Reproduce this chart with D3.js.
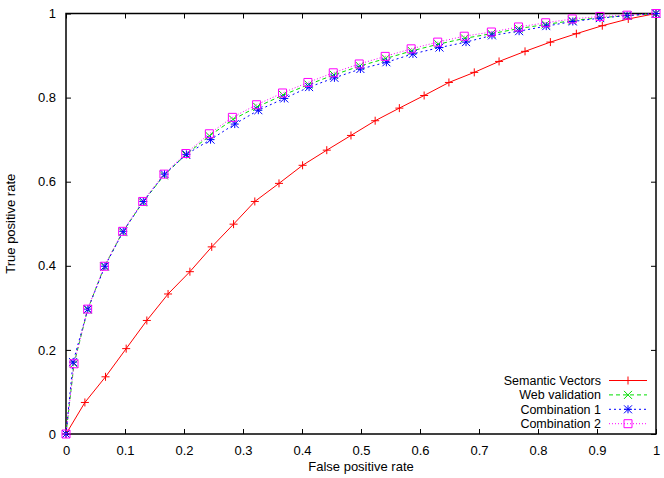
<!DOCTYPE html>
<html>
<head>
<meta charset="utf-8">
<script src="https://cdn.jsdelivr.net/npm/d3@7"></script>
<style>
  body { margin: 0; background: #fff; }
  text { font-family: "Liberation Sans", Arial, sans-serif; font-size: 13px; fill: #000; }
</style>
</head>
<body>
<div id="chart"></div>
<script>
// ROC curve data
var fprSV = [0, 0.032, 0.067, 0.102, 0.137, 0.173, 0.210, 0.247, 0.284, 0.320, 0.361, 0.401, 0.442, 0.483, 0.524, 0.565, 0.607, 0.649, 0.692, 0.734, 0.778, 0.821, 0.865, 0.909, 0.953, 1];
var tprSV = [0, 0.075, 0.136, 0.203, 0.270, 0.333, 0.386, 0.445, 0.499, 0.553, 0.596, 0.639, 0.675, 0.710, 0.745, 0.775, 0.805, 0.836, 0.860, 0.886, 0.910, 0.932, 0.952, 0.971, 0.987, 1];

var fprWV = [0, 0.0136, 0.0367, 0.065, 0.096, 0.130, 0.166, 0.203, 0.243, 0.283, 0.324, 0.368, 0.411, 0.454, 0.498, 0.542, 0.586, 0.631, 0.676, 0.721, 0.767, 0.813, 0.858, 0.905, 0.951, 1];
var tprWV = [0, 0.167, 0.296, 0.398, 0.480, 0.551, 0.615, 0.664, 0.709, 0.748, 0.778, 0.806, 0.831, 0.854, 0.875, 0.893, 0.911, 0.927, 0.941, 0.952, 0.964, 0.974, 0.983, 0.990, 0.995, 1];

var fprC1 = [0, 0.012, 0.037, 0.066, 0.097, 0.131, 0.167, 0.204, 0.245, 0.286, 0.326, 0.370, 0.412, 0.455, 0.499, 0.543, 0.588, 0.633, 0.678, 0.722, 0.768, 0.814, 0.859, 0.905, 0.951, 1];
var tprC1 = [0, 0.171, 0.297, 0.399, 0.482, 0.553, 0.618, 0.665, 0.700, 0.737, 0.770, 0.798, 0.825, 0.847, 0.868, 0.884, 0.904, 0.919, 0.932, 0.948, 0.958, 0.970, 0.981, 0.989, 0.995, 1];

var fprC2 = [0, 0.0136, 0.0367, 0.065, 0.096, 0.130, 0.166, 0.203, 0.243, 0.282, 0.323, 0.367, 0.410, 0.453, 0.497, 0.541, 0.585, 0.630, 0.675, 0.721, 0.767, 0.813, 0.858, 0.905, 0.951, 1];
var tprC2 = [0, 0.167, 0.297, 0.399, 0.482, 0.553, 0.618, 0.667, 0.714, 0.753, 0.783, 0.811, 0.836, 0.859, 0.880, 0.898, 0.916, 0.932, 0.946, 0.956, 0.968, 0.978, 0.987, 0.993, 0.996, 1];

var seriesNames = ["Semantic Vectors", "Web validation", "Combination 1", "Combination 2"];
var xTicks = [0, 0.1, 0.2, 0.3, 0.4, 0.5, 0.6, 0.7, 0.8, 0.9, 1];
var yTicks = [0, 0.2, 0.4, 0.6, 0.8, 1];

var series = [
    { name: seriesNames[0], x: fprSV, y: tprSV, color: "#ff0000", dash: null, marker: "plus" },
    { name: seriesNames[1], x: fprWV, y: tprWV, color: "#00dd00", dash: "4,3", marker: "cross" },
    { name: seriesNames[2], x: fprC1, y: tprC1, color: "#0000ff", dash: "2,3", marker: "star" },
    { name: seriesNames[3], x: fprC2, y: tprC2, color: "#ff00ff", dash: "1,2", marker: "square" }
];

// dimensions
var margin = { top: 13.5, right: 8, bottom: 44, left: 66 },
    width = 664 - margin.left - margin.right,
    height = 478 - margin.top - margin.bottom;

var svg = d3.select("#chart")
    .append("svg")
    .attr("width", 664)
    .attr("height", 478)
    .append("g")
    .attr("transform", "translate(" + margin.left + "," + margin.top + ")");

var x = d3.scaleLinear().domain([0, 1]).range([0, width]);
var y = d3.scaleLinear().domain([0, 1]).range([height, 0]);

// axes with inward ticks on all four sides (mirrored)
function styleAxis(g) {
    g.select(".domain").remove();
    g.selectAll(".tick line").attr("stroke", "#000").attr("stroke-width", 1);
}
svg.append("g")
    .attr("transform", "translate(0," + height + ")")
    .call(d3.axisBottom(x).tickValues(xTicks).tickSize(-5).tickPadding(12).tickFormat(d3.format("")))
    .call(styleAxis);
svg.append("g")
    .call(d3.axisTop(x).tickValues(xTicks).tickSize(-5).tickFormat(""))
    .call(styleAxis);
svg.append("g")
    .call(d3.axisLeft(y).tickValues(yTicks).tickSize(-5).tickPadding(10).tickFormat(d3.format("")))
    .call(styleAxis);
svg.append("g")
    .attr("transform", "translate(" + width + ",0)")
    .call(d3.axisRight(y).tickValues(yTicks).tickSize(-5).tickFormat(""))
    .call(styleAxis);
svg.selectAll(".tick text").style("font-family", "Liberation Sans, Arial, sans-serif").style("font-size", "13px");

// frame
svg.append("rect")
    .attr("width", width).attr("height", height)
    .attr("fill", "none").attr("stroke", "#000").attr("stroke-width", 1.5);

// axis titles
svg.append("text")
    .attr("x", width / 2).attr("y", height + 37)
    .attr("text-anchor", "middle")
    .text("False positive rate");
svg.append("text")
    .attr("transform", "translate(" + (-51) + "," + (height / 2) + ") rotate(-90)")
    .attr("text-anchor", "middle")
    .text("True positive rate");

// marker shapes
function markerPath(type, s) {
    var h = s / 2;
    if (type === "plus") return "M" + (-h) + ",0H" + h + "M0," + (-h) + "V" + h;
    if (type === "cross") return "M" + (-h) + "," + (-h) + "L" + h + "," + h + "M" + (-h) + "," + h + "L" + h + "," + (-h);
    if (type === "star") return "M" + (-h) + ",0H" + h + "M0," + (-h) + "V" + h +
        "M" + (-h) + "," + (-h) + "L" + h + "," + h + "M" + (-h) + "," + h + "L" + h + "," + (-h);
    return "M" + (-h) + "," + (-h) + "H" + h + "V" + h + "H" + (-h) + "Z";
}

var line = d3.line()
    .x(function (d) { return x(d[0]); })
    .y(function (d) { return y(d[1]); });

series.forEach(function (s) {
    var pts = s.x.map(function (v, i) { return [v, s.y[i]]; });
    svg.append("path")
        .datum(pts)
        .attr("fill", "none")
        .attr("stroke", s.color)
        .attr("stroke-width", 1)
        .attr("stroke-dasharray", s.dash)
        .attr("d", line);
    svg.selectAll(null)
        .data(pts)
        .enter()
        .append("path")
        .attr("transform", function (d) { return "translate(" + x(d[0]) + "," + y(d[1]) + ")"; })
        .attr("d", markerPath(s.marker, 8))
        .attr("fill", "none")
        .attr("stroke", s.color)
        .attr("stroke-width", 1);
});

// legend
var legend = svg.append("g")
    .attr("transform", "translate(" + (width - 55) + "," + (height - 53.5) + ")");
series.forEach(function (s, i) {
    var row = legend.append("g").attr("transform", "translate(0," + (i * 14.4) + ")");
    row.append("text")
        .attr("x", 0).attr("y", 4.3)
        .attr("text-anchor", "end")
        .style("font-size", "12.5px")
        .text(s.name);
    row.append("line")
        .attr("x1", 8).attr("x2", 46)
        .attr("stroke", s.color)
        .attr("stroke-width", 1)
        .attr("stroke-dasharray", s.dash);
    row.append("path")
        .attr("transform", "translate(27,0)")
        .attr("d", markerPath(s.marker, 8))
        .attr("fill", "none")
        .attr("stroke", s.color)
        .attr("stroke-width", 1);
});
</script>
</body>
</html>
